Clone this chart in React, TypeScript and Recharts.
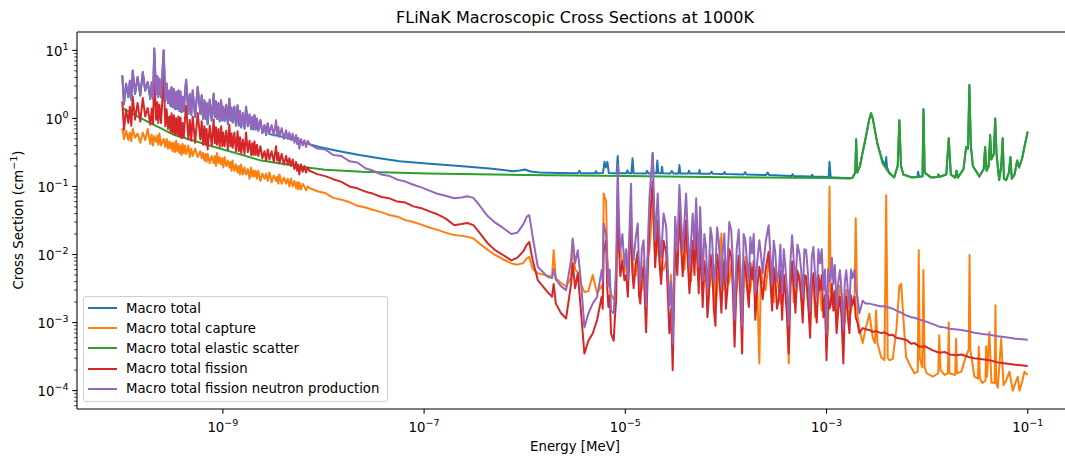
import { LineChart, Line, XAxis, YAxis, Legend, ReferenceLine } from 'recharts';

type Pt = [number, number];

const FONT = '"DejaVu Sans", sans-serif';

// energies in MeV, macroscopic cross sections in 1/cm
const total: Pt[] = [
  [1e-10, 4.24], [1.04e-10, 1.62], [1.09e-10, 3.2], [1.15e-10, 2.04], [1.19e-10, 3.53], [1.23e-10, 1.86],
  [1.27e-10, 5.0], [1.34e-10, 2.28], [1.42e-10, 4.02], [1.51e-10, 2.16], [1.6e-10, 4.75], [1.69e-10, 2.55],
  [1.79e-10, 3.38], [1.9e-10, 1.93], [1.96e-10, 3.33], [2.02e-10, 1.96], [2.08e-10, 10.5], [2.17e-10, 2.28],
  [2.23e-10, 4.12], [2.28e-10, 2.06], [2.34e-10, 3.79], [2.43e-10, 2.04], [2.58e-10, 9.9], [2.68e-10, 1.82],
  [2.76e-10, 3.23], [2.85e-10, 1.67], [2.94e-10, 2.55], [3.02e-10, 1.52], [3.09e-10, 2.84], [3.17e-10, 1.45],
  [3.26e-10, 2.65], [3.34e-10, 1.37], [3.43e-10, 2.41], [3.52e-10, 1.37], [3.61e-10, 2.55], [3.7e-10, 1.29],
  [3.79e-10, 2.45], [3.88e-10, 1.23], [3.98e-10, 2.04], [4.09e-10, 1.27], [4.2e-10, 2.35], [4.31e-10, 3.67],
  [4.54e-10, 1.16], [4.69e-10, 2.25], [4.85e-10, 1.13], [5.01e-10, 2.55], [5.3e-10, 1.04], [5.62e-10, 2.86],
  [5.97e-10, 1.16], [6.16e-10, 2.16], [6.35e-10, 0.98], [6.55e-10, 1.82], [6.72e-10, 0.98], [6.89e-10, 1.67],
  [7.06e-10, 0.82], [7.4e-10, 1.86], [7.74e-10, 0.93], [8.1e-10, 2.28], [8.31e-10, 1.03], [8.53e-10, 1.76],
  [8.75e-10, 0.98], [9.03e-10, 1.67], [9.3e-10, 0.9], [9.6e-10, 1.82], [9.87e-10, 0.93], [1.01e-9, 1.47],
  [1.04e-9, 0.92], [1.08e-9, 1.57], [1.12e-9, 0.83], [1.16e-9, 1.93], [1.19e-9, 0.93], [1.22e-9, 1.42],
  [1.25e-9, 0.87], [1.3e-9, 1.47], [1.35e-9, 0.78], [1.4e-9, 1.54], [1.44e-9, 0.78], [1.48e-9, 1.27],
  [1.52e-9, 0.735], [1.58e-9, 1.18], [1.64e-9, 0.705], [1.7e-9, 1.47], [1.77e-9, 0.765], [1.84e-9, 1.13],
  [1.91e-9, 0.695], [1.96e-9, 1.03], [2.01e-9, 0.686], [2.06e-9, 1.1], [2.12e-9, 0.686], [2.18e-9, 0.98],
  [2.25e-9, 0.657], [2.36e-9, 0.93], [2.47e-9, 0.608], [2.59e-9, 0.784], [2.69e-9, 0.568], [2.79e-9, 0.833],
  [2.9e-9, 0.588], [3.6e-9, 0.55], [4.3e-9, 0.52], [5.75e-9, 0.46],
  [9.1e-9, 0.38], [1.44e-8, 0.33], [2.28e-8, 0.29], [3.6e-8, 0.26],
  [5.7e-8, 0.235], [1.13e-7, 0.215], [2.25e-7, 0.2], [4.5e-7, 0.183], [7.6e-7, 0.168], [8.9e-7, 0.172],
  [1.0e-6, 0.178], [1.15e-6, 0.166], [1.4e-6, 0.16], [2.2e-6, 0.158], [3.4e-6, 0.157], [3.5e-6, 0.17],
  [3.6e-6, 0.157], [5.0e-6, 0.157], [5.1e-6, 0.168], [5.2e-6, 0.157], [6.0e-6, 0.158], [6.2e-6, 0.23],
  [6.4e-6, 0.19], [6.64e-6, 0.23], [6.85e-6, 0.158], [8.2e-6, 0.157], [8.4e-6, 0.28], [8.6e-6, 0.157],
  [1.02e-5, 0.156], [1.05e-5, 0.172], [1.08e-5, 0.156], [1.15e-5, 0.156], [1.18e-5, 0.26], [1.21e-5, 0.156],
  [1.6e-5, 0.155], [1.65e-5, 0.17], [1.7e-5, 0.155], [1.83e-5, 0.156], [1.87e-5, 0.31], [1.91e-5, 0.156],
  [2.04e-5, 0.156], [2.08e-5, 0.24], [2.13e-5, 0.156], [2.28e-5, 0.156], [2.32e-5, 0.195], [2.36e-5, 0.156],
  [2.8e-5, 0.155], [2.9e-5, 0.168], [3.0e-5, 0.155], [3.38e-5, 0.155], [3.45e-5, 0.206], [3.53e-5, 0.155],
  [4.2e-5, 0.155], [4.3e-5, 0.17], [4.4e-5, 0.155], [5.4e-5, 0.155], [5.46e-5, 0.174], [5.55e-5, 0.154],
  [7.0e-5, 0.154], [7.2e-5, 0.165], [7.4e-5, 0.154], [9.5e-5, 0.153], [9.7e-5, 0.163], [1.0e-4, 0.152],
  [1.5e-4, 0.15], [1.55e-4, 0.162], [1.6e-4, 0.15], [2.5e-4, 0.147], [2.6e-4, 0.16], [2.7e-4, 0.147],
  [4.5e-4, 0.143], [4.6e-4, 0.152], [4.7e-4, 0.143], [7.0e-4, 0.14], [7.2e-4, 0.148], [7.4e-4, 0.14],
  [1.05e-3, 0.138], [1.07e-3, 0.23], [1.1e-3, 0.137], [1.69e-3, 0.132], [1.81e-3, 0.134], [1.93e-3, 0.16],
  [1.97e-3, 0.5], [2.02e-3, 0.16], [2.15e-3, 0.2], [2.28e-3, 0.31], [2.5e-3, 0.6], [2.65e-3, 0.95],
  [2.77e-3, 1.19], [2.88e-3, 1.0], [3.2e-3, 0.43], [3.6e-3, 0.24], [3.85e-3, 0.2], [3.92e-3, 0.27],
  [4.0e-3, 0.19], [4.2e-3, 0.16], [4.7e-3, 0.137], [5.1e-3, 0.2], [5.3e-3, 0.94], [5.5e-3, 0.2],
  [5.8e-3, 0.15], [7.0e-3, 0.137], [8.0e-3, 0.137], [8.15e-3, 0.165], [8.3e-3, 0.138], [9.0e-3, 0.142],
  [9.2e-3, 1.36], [9.45e-3, 0.16], [1.1e-2, 0.135], [1.27e-2, 0.138], [1.29e-2, 0.15], [1.32e-2, 0.138],
  [1.55e-2, 0.15], [1.64e-2, 0.51], [1.72e-2, 0.15], [1.9e-2, 0.135], [1.96e-2, 0.17], [2.02e-2, 0.135],
  [2.3e-2, 0.18], [2.44e-2, 0.38], [2.55e-2, 0.36], [2.63e-2, 3.09], [2.72e-2, 0.4], [2.85e-2, 0.2],
  [3.3e-2, 0.14], [3.65e-2, 0.18], [3.77e-2, 0.38], [3.9e-2, 0.17], [4.1e-2, 0.2], [4.23e-2, 0.57],
  [4.35e-2, 0.25], [4.6e-2, 0.3], [4.75e-2, 1.0], [4.9e-2, 0.3], [5.2e-2, 0.124], [5.45e-2, 0.2],
  [5.64e-2, 0.51], [5.8e-2, 0.13], [6.1e-2, 0.124], [6.5e-2, 0.16], [6.73e-2, 0.27], [6.95e-2, 0.13],
  [7.4e-2, 0.15], [7.85e-2, 0.24], [8.2e-2, 0.19], [8.8e-2, 0.26], [9.4e-2, 0.42], [1e-1, 0.64],
];

const capture: Pt[] = [
  [1e-10, 0.72], [1.04e-10, 0.5], [1.09e-10, 0.66], [1.15e-10, 0.48], [1.19e-10, 0.62], [1.23e-10, 0.46],
  [1.27e-10, 0.7], [1.34e-10, 0.52], [1.42e-10, 0.6], [1.51e-10, 0.44], [1.6e-10, 0.62], [1.69e-10, 0.48],
  [1.79e-10, 0.7], [1.9e-10, 0.42], [1.96e-10, 0.58], [2.02e-10, 0.4], [2.08e-10, 0.55], [2.17e-10, 0.45],
  [2.23e-10, 0.56], [2.28e-10, 0.41], [2.34e-10, 0.6], [2.43e-10, 0.4], [2.58e-10, 0.5], [2.68e-10, 0.38],
  [2.76e-10, 0.5], [2.85e-10, 0.36], [2.94e-10, 0.46], [3.02e-10, 0.36], [3.09e-10, 0.44], [3.17e-10, 0.33],
  [3.26e-10, 0.44], [3.34e-10, 0.32], [3.43e-10, 0.47], [3.52e-10, 0.33], [3.61e-10, 0.42], [3.7e-10, 0.31],
  [3.79e-10, 0.4], [3.88e-10, 0.29], [3.98e-10, 0.42], [4.09e-10, 0.31], [4.2e-10, 0.4], [4.31e-10, 0.3],
  [4.54e-10, 0.4], [4.69e-10, 0.27], [4.85e-10, 0.36], [5.01e-10, 0.28], [5.3e-10, 0.36], [5.62e-10, 0.27],
  [5.97e-10, 0.33], [6.16e-10, 0.26], [6.35e-10, 0.31], [6.55e-10, 0.24], [6.72e-10, 0.3], [6.89e-10, 0.23],
  [7.06e-10, 0.3], [7.4e-10, 0.22], [7.74e-10, 0.28], [8.1e-10, 0.22], [8.31e-10, 0.28], [8.53e-10, 0.2],
  [8.75e-10, 0.31], [9.03e-10, 0.22], [9.3e-10, 0.27], [9.6e-10, 0.21], [9.87e-10, 0.26], [1.01e-9, 0.19],
  [1.04e-9, 0.27], [1.08e-9, 0.2], [1.12e-9, 0.24], [1.16e-9, 0.19], [1.19e-9, 0.23], [1.22e-9, 0.17],
  [1.25e-9, 0.24], [1.3e-9, 0.17], [1.35e-9, 0.21], [1.4e-9, 0.16], [1.44e-9, 0.2], [1.48e-9, 0.15],
  [1.52e-9, 0.21], [1.58e-9, 0.15], [1.64e-9, 0.19], [1.7e-9, 0.15], [1.77e-9, 0.18], [1.84e-9, 0.13],
  [1.91e-9, 0.19], [1.96e-9, 0.14], [2.01e-9, 0.17], [2.06e-9, 0.14], [2.12e-9, 0.17], [2.18e-9, 0.13],
  [2.25e-9, 0.17], [2.36e-9, 0.12], [2.47e-9, 0.155], [2.59e-9, 0.13], [2.69e-9, 0.155], [2.79e-9, 0.12],
  [2.9e-9, 0.16], [3.05e-9, 0.115], [3.21e-9, 0.145], [3.38e-9, 0.12], [3.47e-9, 0.14], [3.56e-9, 0.11],
  [3.65e-9, 0.15], [3.84e-9, 0.11], [4.04e-9, 0.135], [4.25e-9, 0.11], [4.41e-9, 0.13], [4.58e-9, 0.1],
  [4.76e-9, 0.13], [4.94e-9, 0.1], [5.14e-9, 0.12], [5.34e-9, 0.095], [5.47e-9, 0.115], [5.61e-9, 0.09],
  [5.75e-9, 0.115], [5.97e-9, 0.09], [6.21e-9, 0.11], [6.46e-9, 0.1], [6.7e-9, 0.088], [6.97e-9, 0.1],
  [7.24e-9, 0.095], [8.69e-9, 0.085], [1.04e-8, 0.08], [1.25e-8, 0.068], [1.51e-8, 0.064], [1.81e-8, 0.059],
  [2.17e-8, 0.052], [2.61e-8, 0.049], [3.13e-8, 0.045], [3.77e-8, 0.042], [4.52e-8, 0.038], [5.43e-8, 0.036],
  [6.52e-8, 0.032], [7.83e-8, 0.03], [9.4e-8, 0.0275], [1.13e-7, 0.025], [1.36e-7, 0.023], [1.63e-7, 0.021],
  [2.0e-7, 0.0193], [2.35e-7, 0.0188], [2.69e-7, 0.0183], [3.09e-7, 0.0172], [3.55e-7, 0.0145], [4.26e-7, 0.0118],
  [5.0e-7, 0.01], [6.0e-7, 0.0086], [7.38e-7, 0.0074], [8.47e-7, 0.0071], [9.71e-7, 0.0075],
  [1.05e-6, 0.0088], [1.11e-6, 0.0092], [1.2e-6, 0.0062], [1.35e-6, 0.0053], [1.69e-6, 0.0049], [1.87e-6, 0.0047],
  [1.94e-6, 0.0116], [2.04e-6, 0.0045], [2.3e-6, 0.0038], [2.58e-6, 0.0034], [2.89e-6, 0.0045], [3.0e-6, 0.0162],
  [3.17e-6, 0.006], [3.37e-6, 0.0055], [3.64e-6, 0.0036], [3.92e-6, 0.0028], [4.3e-6, 0.0029], [4.74e-6, 0.005],
  [5.25e-6, 0.0027], [5.82e-6, 0.0035], [5.96e-6, 0.003], [6.1e-6, 0.079], [6.44e-6, 0.06], [6.61e-6, 0.01],
  [6.79e-6, 0.0042], [7.0e-6, 0.0035], [7.22e-6, 0.0026], [7.67e-6, 0.0022], [7.89e-6, 0.0025], [8.11e-6, 0.004],
  [8.4e-6, 0.05], [8.66e-6, 0.015], [8.93e-6, 0.012], [9.36e-6, 0.007], [9.8e-6, 0.0055], [1.02e-5, 0.008],
  [1.06e-5, 0.0035], [1.14e-5, 0.03], [1.17e-5, 0.009], [1.21e-5, 0.006], [1.27e-5, 0.005], [1.33e-5, 0.009],
  [1.37e-5, 0.007], [1.41e-5, 0.004], [1.46e-5, 0.003], [1.52e-5, 0.008], [1.61e-5, 0.0025], [1.67e-5, 0.009],
  [1.74e-5, 0.012], [1.87e-5, 0.06], [1.98e-5, 0.009], [2.04e-5, 0.01], [2.1e-5, 0.02], [2.18e-5, 0.012],
  [2.27e-5, 0.006], [2.4e-5, 0.006], [2.55e-5, 0.008], [2.74e-5, 0.0022], [2.85e-5, 0.005], [2.96e-5, 0.0012],
  [3.13e-5, 0.01], [3.29e-5, 0.008], [3.45e-5, 0.03], [3.72e-5, 0.006], [3.87e-5, 0.006], [4.02e-5, 0.015],
  [4.18e-5, 0.01], [4.34e-5, 0.004], [4.5e-5, 0.004], [4.68e-5, 0.012], [4.87e-5, 0.009], [5.06e-5, 0.015],
  [5.37e-5, 0.0035], [5.55e-5, 0.01], [5.88e-5, 0.0025], [6.1e-5, 0.004], [6.35e-5, 0.0045], [6.55e-5, 0.006],
  [6.75e-5, 0.003], [7.02e-5, 0.004], [7.29e-5, 0.006], [7.58e-5, 0.007], [7.87e-5, 0.0014], [8.17e-5, 0.003],
  [8.48e-5, 0.006], [9.02e-5, 0.0204], [9.33e-5, 0.003], [9.66e-5, 0.004], [1.0e-4, 0.006], [1.04e-4, 0.0035],
  [1.08e-4, 0.004], [1.13e-4, 0.007], [1.17e-4, 0.006], [1.22e-4, 0.0012], [1.28e-4, 0.003], [1.34e-4, 0.006],
  [1.39e-4, 0.007], [1.45e-4, 0.0008], [1.5e-4, 0.003], [1.56e-4, 0.0092], [1.62e-4, 0.005], [1.69e-4, 0.0025],
  [1.75e-4, 0.003], [1.82e-4, 0.005], [1.89e-4, 0.006], [1.96e-4, 0.0018], [2.05e-4, 0.003], [2.15e-4, 0.00025],
  [2.23e-4, 0.006], [2.32e-4, 0.004], [2.48e-4, 0.003], [2.66e-4, 0.008], [2.77e-4, 0.006], [2.88e-4, 0.0025],
  [2.99e-4, 0.002], [3.1e-4, 0.006], [3.22e-4, 0.005], [3.35e-4, 0.003], [3.48e-4, 0.002], [3.62e-4, 0.0018],
  [3.76e-4, 0.005], [3.9e-4, 0.004], [4.05e-4, 0.002], [4.21e-4, 0.00025], [4.38e-4, 0.004], [4.55e-4, 0.007],
  [4.73e-4, 0.002], [4.91e-4, 0.0025], [5.14e-4, 0.004], [5.38e-4, 0.005], [5.59e-4, 0.0025], [5.8e-4, 0.0015],
  [6.03e-4, 0.0035], [6.27e-4, 0.0045], [6.56e-4, 0.0018], [6.87e-4, 0.0012], [7.13e-4, 0.003], [7.41e-4, 0.004],
  [7.7e-4, 0.0012], [8.0e-4, 0.0015], [8.31e-4, 0.003], [8.64e-4, 0.003], [8.97e-4, 0.0015], [9.31e-4, 0.0018],
  [9.65e-4, 0.002], [1.0e-3, 0.0004], [1.035e-3, 0.0008], [1.07e-3, 0.1], [1.1e-3, 0.0028], [1.13e-3, 0.003],
  [1.17e-3, 0.0025], [1.21e-3, 0.0018], [1.26e-3, 0.0012], [1.31e-3, 0.002], [1.36e-3, 0.0035], [1.41e-3, 0.0025],
  [1.47e-3, 0.0015], [1.52e-3, 0.001], [1.57e-3, 0.003], [1.63e-3, 0.002], [1.69e-3, 0.0012], [1.75e-3, 0.0015],
  [1.81e-3, 0.002], [1.9e-3, 0.0024], [1.95e-3, 0.034], [2.03e-3, 0.0013], [2.12e-3, 0.0008], [2.29e-3, 0.0005],
  [2.44e-3, 0.0008], [2.67e-3, 0.00135], [2.88e-3, 0.0006], [3.03e-3, 0.0005], [3.11e-3, 0.0015], [3.21e-3, 0.0005],
  [3.49e-3, 0.00031], [3.77e-3, 0.00028], [3.92e-3, 0.074], [4.06e-3, 0.0003], [4.23e-3, 0.00028], [4.55e-3, 0.00029],
  [4.95e-3, 0.0008], [5.31e-3, 0.0035], [5.52e-3, 0.0037], [5.82e-3, 0.0011], [6.18e-3, 0.00031], [6.93e-3, 0.00022],
  [7.48e-3, 0.00018], [8.07e-3, 0.00019], [8.26e-3, 0.0116], [8.45e-3, 0.0003], [8.94e-3, 0.00022], [9.19e-3, 0.0059],
  [9.45e-3, 0.00022], [9.91e-3, 0.00018], [1.14e-2, 0.00016], [1.29e-2, 0.00018], [1.32e-2, 0.00065], [1.36e-2, 0.0002],
  [1.49e-2, 0.00017], [1.61e-2, 0.00018], [1.64e-2, 0.001], [1.67e-2, 0.00018], [1.9e-2, 0.00017], [1.94e-2, 0.00058],
  [1.98e-2, 0.00018], [2.19e-2, 0.00019], [2.4e-2, 0.0003], [2.59e-2, 0.0004], [2.64e-2, 0.0098], [2.69e-2, 0.0004],
  [2.95e-2, 0.00016], [3.2e-2, 0.00015], [3.26e-2, 0.00044], [3.35e-2, 0.00015], [3.55e-2, 0.00013], [3.8e-2, 0.00014],
  [3.86e-2, 0.00045], [3.93e-2, 0.00016], [4.16e-2, 0.00073], [4.36e-2, 0.00013], [4.69e-2, 0.00013], [4.78e-2, 0.0018],
  [4.86e-2, 0.00013], [5.04e-2, 0.00011], [5.45e-2, 0.00058], [5.74e-2, 0.00012], [6.1e-2, 0.00014], [6.58e-2, 0.00019],
  [7.1e-2, 0.0001], [7.55e-2, 0.00013], [7.96e-2, 0.00016], [8.28e-2, 0.0001], [8.85e-2, 0.00014], [9.27e-2, 0.00019],
  [1e-1, 0.00017],
];

const elastic: Pt[] = [
  [1e-10, 1.42], [1.54e-10, 1.0], [3.3e-10, 0.57], [8.8e-10, 0.37], [2.41e-9, 0.24], [6.0e-9, 0.195],
  [1.04e-8, 0.176], [2.38e-8, 0.164], [1.08e-7, 0.155], [1e-6, 0.147], [1e-5, 0.142], [1e-4, 0.137],
  [1e-3, 0.133], [1.69e-3, 0.131], [1.81e-3, 0.133], [1.93e-3, 0.16], [1.97e-3, 0.48], [2.02e-3, 0.16],
  [2.15e-3, 0.2], [2.28e-3, 0.31], [2.5e-3, 0.6], [2.65e-3, 0.95], [2.77e-3, 1.19], [2.88e-3, 1.0],
  [3.2e-3, 0.43], [3.6e-3, 0.22], [4.2e-3, 0.157], [4.7e-3, 0.135], [5.1e-3, 0.2], [5.3e-3, 0.94],
  [5.5e-3, 0.2], [5.8e-3, 0.15], [7.0e-3, 0.135], [9.0e-3, 0.14], [9.2e-3, 1.36], [9.45e-3, 0.16],
  [1.1e-2, 0.135], [1.27e-2, 0.138], [1.29e-2, 0.15], [1.32e-2, 0.138], [1.55e-2, 0.15], [1.64e-2, 0.51],
  [1.72e-2, 0.15], [1.9e-2, 0.135], [1.96e-2, 0.17], [2.02e-2, 0.135], [2.3e-2, 0.18], [2.44e-2, 0.38],
  [2.55e-2, 0.36], [2.63e-2, 3.09], [2.72e-2, 0.4], [2.85e-2, 0.2], [3.3e-2, 0.14], [3.65e-2, 0.18],
  [3.77e-2, 0.38], [3.9e-2, 0.17], [4.1e-2, 0.2], [4.23e-2, 0.57], [4.35e-2, 0.25], [4.6e-2, 0.3],
  [4.75e-2, 1.0], [4.9e-2, 0.3], [5.2e-2, 0.124], [5.45e-2, 0.2], [5.64e-2, 0.51], [5.8e-2, 0.13],
  [6.1e-2, 0.124], [6.5e-2, 0.16], [6.73e-2, 0.27], [6.95e-2, 0.13], [7.4e-2, 0.15], [7.85e-2, 0.24],
  [8.2e-2, 0.19], [8.8e-2, 0.26], [9.4e-2, 0.42], [1e-1, 0.64],
];

const fission: Pt[] = [
  [1e-10, 1.78], [1.04e-10, 0.68], [1.09e-10, 1.35], [1.15e-10, 0.86], [1.19e-10, 1.48], [1.23e-10, 0.78],
  [1.27e-10, 2.1], [1.34e-10, 0.96], [1.42e-10, 1.69], [1.51e-10, 0.9], [1.6e-10, 2.0], [1.69e-10, 1.07],
  [1.79e-10, 1.42], [1.9e-10, 0.81], [1.96e-10, 1.4], [2.02e-10, 0.82], [2.08e-10, 4.4], [2.17e-10, 0.96],
  [2.23e-10, 1.73], [2.28e-10, 0.86], [2.34e-10, 1.59], [2.43e-10, 0.86], [2.58e-10, 4.16], [2.68e-10, 0.77],
  [2.76e-10, 1.36], [2.85e-10, 0.7], [2.94e-10, 1.07], [3.02e-10, 0.64], [3.09e-10, 1.19], [3.17e-10, 0.61],
  [3.26e-10, 1.11], [3.34e-10, 0.58], [3.43e-10, 1.01], [3.52e-10, 0.58], [3.61e-10, 1.07], [3.7e-10, 0.54],
  [3.79e-10, 1.03], [3.88e-10, 0.51], [3.98e-10, 0.86], [4.09e-10, 0.53], [4.2e-10, 0.99], [4.31e-10, 1.54],
  [4.54e-10, 0.49], [4.69e-10, 0.95], [4.85e-10, 0.47], [5.01e-10, 1.07], [5.3e-10, 0.44], [5.62e-10, 1.2],
  [5.97e-10, 0.49], [6.16e-10, 0.91], [6.35e-10, 0.41], [6.55e-10, 0.77], [6.72e-10, 0.41], [6.89e-10, 0.7],
  [7.06e-10, 0.35], [7.4e-10, 0.78], [7.74e-10, 0.39], [8.1e-10, 0.96], [8.31e-10, 0.43], [8.53e-10, 0.74],
  [8.75e-10, 0.41], [9.03e-10, 0.7], [9.3e-10, 0.38], [9.6e-10, 0.77], [9.87e-10, 0.39], [1.01e-9, 0.62],
  [1.04e-9, 0.39], [1.08e-9, 0.66], [1.12e-9, 0.35], [1.16e-9, 0.81], [1.19e-9, 0.39], [1.22e-9, 0.6],
  [1.25e-9, 0.37], [1.3e-9, 0.62], [1.35e-9, 0.33], [1.4e-9, 0.65], [1.44e-9, 0.33], [1.48e-9, 0.53],
  [1.52e-9, 0.31], [1.58e-9, 0.49], [1.64e-9, 0.3], [1.7e-9, 0.62], [1.77e-9, 0.32], [1.84e-9, 0.47],
  [1.91e-9, 0.29], [1.96e-9, 0.43], [2.01e-9, 0.29], [2.06e-9, 0.46], [2.12e-9, 0.29], [2.18e-9, 0.41],
  [2.25e-9, 0.28], [2.36e-9, 0.39], [2.47e-9, 0.26], [2.59e-9, 0.33], [2.69e-9, 0.24], [2.79e-9, 0.35],
  [2.9e-9, 0.25], [3.05e-9, 0.33], [3.21e-9, 0.23], [3.38e-9, 0.39], [3.47e-9, 0.24], [3.56e-9, 0.31],
  [3.65e-9, 0.22], [3.84e-9, 0.3], [4.04e-9, 0.21], [4.25e-9, 0.28], [4.41e-9, 0.21], [4.58e-9, 0.26],
  [4.76e-9, 0.2], [4.94e-9, 0.25], [5.14e-9, 0.18], [5.34e-9, 0.23], [5.47e-9, 0.17], [5.61e-9, 0.21],
  [5.75e-9, 0.15], [5.97e-9, 0.21], [6.21e-9, 0.165], [6.46e-9, 0.2], [6.7e-9, 0.16], [6.97e-9, 0.19],
  [7.24e-9, 0.17], [8.69e-9, 0.152], [1.04e-8, 0.142], [1.25e-8, 0.128], [1.51e-8, 0.117], [1.81e-8, 0.1],
  [2.17e-8, 0.094], [2.61e-8, 0.084], [3.13e-8, 0.078], [3.77e-8, 0.07], [4.52e-8, 0.067], [5.43e-8, 0.06],
  [6.52e-8, 0.058], [7.83e-8, 0.051], [9.4e-8, 0.048], [1.13e-7, 0.043], [1.36e-7, 0.039], [1.63e-7, 0.034],
  [2.0e-7, 0.027], [2.35e-7, 0.028], [2.69e-7, 0.029], [3.09e-7, 0.027], [3.55e-7, 0.021], [4.26e-7, 0.0148],
  [5.0e-7, 0.0118], [6.0e-7, 0.01], [7.38e-7, 0.0082], [8.47e-7, 0.009], [9.71e-7, 0.0112],
  [1.05e-6, 0.014], [1.11e-6, 0.0153], [1.2e-6, 0.0083], [1.35e-6, 0.0042], [1.69e-6, 0.0028], [1.87e-6, 0.0024],
  [1.94e-6, 0.0037], [2.04e-6, 0.0019], [2.3e-6, 0.00137], [2.58e-6, 0.00115], [2.89e-6, 0.0037], [3.0e-6, 0.0074],
  [3.17e-6, 0.0032], [3.37e-6, 0.0053], [3.64e-6, 0.00137], [3.92e-6, 0.00035], [4.3e-6, 0.00054], [4.74e-6, 0.00069],
  [5.25e-6, 0.0011], [5.82e-6, 0.0024], [5.96e-6, 0.0016], [6.1e-6, 0.011], [6.44e-6, 0.0162], [6.61e-6, 0.0033],
  [6.79e-6, 0.0017], [7.0e-6, 0.0025], [7.22e-6, 0.00069], [7.67e-6, 0.00054], [7.89e-6, 0.0012], [8.11e-6, 0.0021],
  [8.4e-6, 0.08], [8.66e-6, 0.012], [8.93e-6, 0.0048], [9.36e-6, 0.008], [9.8e-6, 0.0042], [1.02e-5, 0.005],
  [1.06e-5, 0.0024], [1.14e-5, 0.045], [1.17e-5, 0.006], [1.21e-5, 0.0032], [1.27e-5, 0.0075], [1.33e-5, 0.011],
  [1.37e-5, 0.0025], [1.41e-5, 0.0019], [1.46e-5, 0.005], [1.52e-5, 0.0065], [1.61e-5, 0.00072], [1.67e-5, 0.005],
  [1.74e-5, 0.028], [1.87e-5, 0.12], [1.98e-5, 0.0065], [2.04e-5, 0.014], [2.1e-5, 0.032], [2.18e-5, 0.008],
  [2.27e-5, 0.0037], [2.4e-5, 0.016], [2.55e-5, 0.0105], [2.74e-5, 0.0007], [2.85e-5, 0.0016], [2.96e-5, 0.0002],
  [3.13e-5, 0.015], [3.29e-5, 0.005], [3.45e-5, 0.043], [3.72e-5, 0.0048], [3.87e-5, 0.012], [4.02e-5, 0.032],
  [4.18e-5, 0.008], [4.34e-5, 0.0027], [4.5e-5, 0.006], [4.68e-5, 0.016], [4.87e-5, 0.005], [5.06e-5, 0.027],
  [5.37e-5, 0.0027], [5.55e-5, 0.02], [5.88e-5, 0.0017], [6.1e-5, 0.008], [6.35e-5, 0.0053], [6.55e-5, 0.0012],
  [6.75e-5, 0.0022], [7.02e-5, 0.01], [7.29e-5, 0.007], [7.58e-5, 0.0016], [7.87e-5, 0.0009], [8.17e-5, 0.01],
  [8.48e-5, 0.0066], [9.02e-5, 0.0014], [9.33e-5, 0.005], [9.66e-5, 0.0084], [1.0e-4, 0.0016], [1.04e-4, 0.0034],
  [1.08e-4, 0.012], [1.13e-4, 0.0094], [1.17e-4, 0.0033], [1.22e-4, 0.00044], [1.28e-4, 0.005], [1.34e-4, 0.0096],
  [1.39e-4, 0.0025], [1.45e-4, 0.00035], [1.5e-4, 0.008], [1.56e-4, 0.0066], [1.62e-4, 0.0033], [1.69e-4, 0.0017],
  [1.75e-4, 0.0075], [1.82e-4, 0.0043], [1.89e-4, 0.008], [1.96e-4, 0.0011], [2.05e-4, 0.0033], [2.15e-4, 0.0066],
  [2.23e-4, 0.004], [2.32e-4, 0.0022], [2.48e-4, 0.006], [2.66e-4, 0.011], [2.77e-4, 0.004], [2.88e-4, 0.0015],
  [2.99e-4, 0.0065], [3.1e-4, 0.0043], [3.22e-4, 0.0016], [3.35e-4, 0.0022], [3.48e-4, 0.0058], [3.62e-4, 0.0011],
  [3.76e-4, 0.005], [3.9e-4, 0.0027], [4.05e-4, 0.0012], [4.21e-4, 0.00035], [4.38e-4, 0.0033], [4.55e-4, 0.0079],
  [4.73e-4, 0.0033], [4.91e-4, 0.0014], [5.14e-4, 0.0058], [5.38e-4, 0.0043], [5.59e-4, 0.0025], [5.8e-4, 0.001],
  [6.03e-4, 0.005], [6.27e-4, 0.0048], [6.56e-4, 0.002], [6.87e-4, 0.0006], [7.13e-4, 0.0037], [7.41e-4, 0.0053],
  [7.7e-4, 0.002], [8.0e-4, 0.001], [8.31e-4, 0.005], [8.64e-4, 0.003], [8.97e-4, 0.005], [9.31e-4, 0.0012],
  [9.65e-4, 0.0025], [1.0e-3, 0.00028], [1.035e-3, 0.0025], [1.07e-3, 0.0016], [1.1e-3, 0.0018], [1.13e-3, 0.0037],
  [1.17e-3, 0.0015], [1.21e-3, 0.0029], [1.26e-3, 0.0007], [1.31e-3, 0.0016], [1.36e-3, 0.0024], [1.41e-3, 0.0012],
  [1.47e-3, 0.00025], [1.52e-3, 0.0016], [1.57e-3, 0.0024], [1.63e-3, 0.0012], [1.69e-3, 0.0007], [1.75e-3, 0.0025],
  [1.81e-3, 0.0018], [1.9e-3, 0.0024], [1.95e-3, 0.0012], [2.03e-3, 0.001], [2.12e-3, 0.0007], [2.29e-3, 0.00083],
  [2.44e-3, 0.0008], [2.67e-3, 0.00078], [2.88e-3, 0.00073], [3.11e-3, 0.00075], [3.49e-3, 0.0007], [3.77e-3, 0.00072],
  [4.23e-3, 0.00065], [4.55e-3, 0.00066], [4.95e-3, 0.0006], [5.52e-3, 0.00058], [6.18e-3, 0.00056], [6.93e-3, 0.00049],
  [7.48e-3, 0.0005], [8.45e-3, 0.00044], [9.45e-3, 0.00045], [1.14e-2, 0.00039], [1.32e-2, 0.00036], [1.49e-2, 0.00037],
  [1.67e-2, 0.00034], [1.98e-2, 0.00033], [2.19e-2, 0.00034], [2.64e-2, 0.00031], [2.95e-2, 0.0003], [3.55e-2, 0.00029],
  [4.16e-2, 0.00028], [5.04e-2, 0.00026], [6.1e-2, 0.00025], [7.55e-2, 0.00024], [1e-1, 0.00023],
];

const nuFission: Pt[] = [
  [1e-10, 4.33], [1.04e-10, 1.65], [1.09e-10, 3.27], [1.15e-10, 2.08], [1.19e-10, 3.6], [1.23e-10, 1.9],
  [1.27e-10, 5.1], [1.34e-10, 2.33], [1.42e-10, 4.1], [1.51e-10, 2.2], [1.6e-10, 4.85], [1.69e-10, 2.6],
  [1.79e-10, 3.45], [1.9e-10, 1.97], [1.96e-10, 3.4], [2.02e-10, 2.0], [2.08e-10, 10.7], [2.17e-10, 2.33],
  [2.23e-10, 4.2], [2.28e-10, 2.1], [2.34e-10, 3.87], [2.43e-10, 2.08], [2.58e-10, 10.1], [2.68e-10, 1.86],
  [2.76e-10, 3.3], [2.85e-10, 1.7], [2.94e-10, 2.6], [3.02e-10, 1.55], [3.09e-10, 2.9], [3.17e-10, 1.48],
  [3.26e-10, 2.7], [3.34e-10, 1.4], [3.43e-10, 2.46], [3.52e-10, 1.4], [3.61e-10, 2.6], [3.7e-10, 1.32],
  [3.79e-10, 2.5], [3.88e-10, 1.25], [3.98e-10, 2.08], [4.09e-10, 1.3], [4.2e-10, 2.4], [4.31e-10, 3.74],
  [4.54e-10, 1.18], [4.69e-10, 2.3], [4.85e-10, 1.15], [5.01e-10, 2.6], [5.3e-10, 1.06], [5.62e-10, 2.92],
  [5.97e-10, 1.18], [6.16e-10, 2.2], [6.35e-10, 1.0], [6.55e-10, 1.86], [6.72e-10, 1.0], [6.89e-10, 1.7],
  [7.06e-10, 0.84], [7.4e-10, 1.9], [7.74e-10, 0.95], [8.1e-10, 2.33], [8.31e-10, 1.05], [8.53e-10, 1.8],
  [8.75e-10, 1.0], [9.03e-10, 1.7], [9.3e-10, 0.92], [9.6e-10, 1.86], [9.87e-10, 0.95], [1.01e-9, 1.5],
  [1.04e-9, 0.94], [1.08e-9, 1.6], [1.12e-9, 0.85], [1.16e-9, 1.97], [1.19e-9, 0.95], [1.22e-9, 1.45],
  [1.25e-9, 0.89], [1.3e-9, 1.5], [1.35e-9, 0.8], [1.4e-9, 1.57], [1.44e-9, 0.8], [1.48e-9, 1.3],
  [1.52e-9, 0.75], [1.58e-9, 1.2], [1.64e-9, 0.72], [1.7e-9, 1.5], [1.77e-9, 0.78], [1.84e-9, 1.15],
  [1.91e-9, 0.71], [1.96e-9, 1.05], [2.01e-9, 0.7], [2.06e-9, 1.12], [2.12e-9, 0.7], [2.18e-9, 1.0],
  [2.25e-9, 0.67], [2.36e-9, 0.95], [2.47e-9, 0.62], [2.59e-9, 0.8], [2.69e-9, 0.58], [2.79e-9, 0.85],
  [2.9e-9, 0.6], [3.05e-9, 0.8], [3.21e-9, 0.56], [3.38e-9, 0.94], [3.47e-9, 0.58], [3.56e-9, 0.75],
  [3.65e-9, 0.54], [3.84e-9, 0.72], [4.04e-9, 0.5], [4.25e-9, 0.67], [4.41e-9, 0.5], [4.58e-9, 0.62],
  [4.76e-9, 0.48], [4.94e-9, 0.6], [5.14e-9, 0.44], [5.34e-9, 0.57], [5.47e-9, 0.42], [5.61e-9, 0.52],
  [5.75e-9, 0.36], [5.97e-9, 0.5], [6.21e-9, 0.4], [6.46e-9, 0.48], [6.7e-9, 0.38], [6.97e-9, 0.47],
  [7.24e-9, 0.42], [8.69e-9, 0.36], [1.04e-8, 0.35], [1.25e-8, 0.29], [1.51e-8, 0.28], [1.81e-8, 0.235],
  [2.17e-8, 0.225], [2.61e-8, 0.185], [3.13e-8, 0.17], [3.77e-8, 0.15], [4.52e-8, 0.143], [5.43e-8, 0.126],
  [6.52e-8, 0.118], [7.83e-8, 0.106], [9.4e-8, 0.097], [1.13e-7, 0.087], [1.36e-7, 0.078], [1.63e-7, 0.073],
  [2.0e-7, 0.067], [2.35e-7, 0.069], [2.69e-7, 0.072], [3.09e-7, 0.068], [3.55e-7, 0.053], [4.26e-7, 0.037],
  [5.0e-7, 0.03], [6.0e-7, 0.025], [7.38e-7, 0.02], [8.47e-7, 0.021], [9.71e-7, 0.028],
  [1.05e-6, 0.036], [1.11e-6, 0.038], [1.2e-6, 0.0183], [1.35e-6, 0.0066], [1.69e-6, 0.0047], [1.87e-6, 0.0045],
  [1.94e-6, 0.0062], [2.04e-6, 0.0043], [2.3e-6, 0.0034], [2.58e-6, 0.003], [2.89e-6, 0.0083], [3.0e-6, 0.0172],
  [3.17e-6, 0.0074], [3.37e-6, 0.0116], [3.64e-6, 0.0037], [3.92e-6, 0.00085], [4.3e-6, 0.00137], [4.74e-6, 0.0019],
  [5.25e-6, 0.0024], [5.82e-6, 0.0059], [5.96e-6, 0.004], [6.1e-6, 0.0286], [6.44e-6, 0.02], [6.61e-6, 0.008],
  [6.79e-6, 0.0034], [7.0e-6, 0.006], [7.22e-6, 0.0015], [7.67e-6, 0.00137], [7.89e-6, 0.003], [8.11e-6, 0.0066],
  [8.4e-6, 0.206], [8.66e-6, 0.03], [8.93e-6, 0.0116], [9.36e-6, 0.02], [9.8e-6, 0.0066], [1.02e-5, 0.012],
  [1.06e-5, 0.0042], [1.14e-5, 0.11], [1.17e-5, 0.015], [1.21e-5, 0.0083], [1.27e-5, 0.018], [1.33e-5, 0.0286],
  [1.37e-5, 0.006], [1.41e-5, 0.0037], [1.46e-5, 0.012], [1.52e-5, 0.0162], [1.61e-5, 0.00172], [1.67e-5, 0.012],
  [1.74e-5, 0.07], [1.87e-5, 0.306], [1.98e-5, 0.0162], [2.04e-5, 0.035], [2.1e-5, 0.079], [2.18e-5, 0.02],
  [2.27e-5, 0.0092], [2.4e-5, 0.04], [2.55e-5, 0.0256], [2.74e-5, 0.00172], [2.85e-5, 0.004], [2.96e-5, 0.00049],
  [3.13e-5, 0.036], [3.29e-5, 0.012], [3.45e-5, 0.105], [3.72e-5, 0.0116], [3.87e-5, 0.03], [4.02e-5, 0.079],
  [4.18e-5, 0.02], [4.34e-5, 0.0066], [4.5e-5, 0.015], [4.68e-5, 0.04], [4.87e-5, 0.012], [5.06e-5, 0.067],
  [5.37e-5, 0.0066], [5.55e-5, 0.05], [5.88e-5, 0.0042], [6.1e-5, 0.02], [6.35e-5, 0.0129], [6.55e-5, 0.003],
  [6.75e-5, 0.0053], [7.02e-5, 0.025], [7.29e-5, 0.0172], [7.58e-5, 0.004], [7.87e-5, 0.0059], [8.17e-5, 0.025],
  [8.48e-5, 0.0162], [9.02e-5, 0.0034], [9.33e-5, 0.012], [9.66e-5, 0.0204], [1.0e-4, 0.004], [1.04e-4, 0.0083],
  [1.08e-4, 0.03], [1.13e-4, 0.0228], [1.17e-4, 0.008], [1.22e-4, 0.0011], [1.28e-4, 0.012], [1.34e-4, 0.0233],
  [1.39e-4, 0.006], [1.45e-4, 0.0009], [1.5e-4, 0.02], [1.56e-4, 0.0162], [1.62e-4, 0.008], [1.69e-4, 0.0042],
  [1.75e-4, 0.018], [1.82e-4, 0.0104], [1.89e-4, 0.02], [1.96e-4, 0.0027], [2.05e-4, 0.008], [2.15e-4, 0.0162],
  [2.23e-4, 0.01], [2.32e-4, 0.0053], [2.48e-4, 0.015], [2.66e-4, 0.027], [2.77e-4, 0.01], [2.88e-4, 0.0037],
  [2.99e-4, 0.016], [3.1e-4, 0.0104], [3.22e-4, 0.004], [3.35e-4, 0.0053], [3.48e-4, 0.014], [3.62e-4, 0.0027],
  [3.76e-4, 0.012], [3.9e-4, 0.0066], [4.05e-4, 0.003], [4.21e-4, 0.0009], [4.38e-4, 0.008], [4.55e-4, 0.0192],
  [4.73e-4, 0.008], [4.91e-4, 0.0034], [5.14e-4, 0.014], [5.38e-4, 0.0104], [5.59e-4, 0.006], [5.8e-4, 0.0024],
  [6.03e-4, 0.012], [6.27e-4, 0.0116], [6.56e-4, 0.005], [6.87e-4, 0.0015], [7.13e-4, 0.009], [7.41e-4, 0.0129],
  [7.7e-4, 0.005], [8.0e-4, 0.0024], [8.31e-4, 0.012], [8.64e-4, 0.0074], [8.97e-4, 0.012], [9.31e-4, 0.003],
  [9.65e-4, 0.006], [1.0e-3, 0.00069], [1.035e-3, 0.006], [1.07e-3, 0.004], [1.1e-3, 0.0045], [1.13e-3, 0.009],
  [1.17e-3, 0.0037], [1.21e-3, 0.007], [1.26e-3, 0.00172], [1.31e-3, 0.004], [1.36e-3, 0.0059], [1.41e-3, 0.003],
  [1.47e-3, 0.0008], [1.52e-3, 0.004], [1.57e-3, 0.0059], [1.63e-3, 0.003], [1.69e-3, 0.00172], [1.75e-3, 0.006],
  [1.81e-3, 0.0045], [1.9e-3, 0.0059], [1.95e-3, 0.003], [2.03e-3, 0.0024], [2.12e-3, 0.00137], [2.29e-3, 0.0021],
  [2.44e-3, 0.0019], [2.67e-3, 0.0019], [2.88e-3, 0.00185], [3.11e-3, 0.0018], [3.49e-3, 0.00172], [3.77e-3, 0.00175],
  [4.23e-3, 0.00165], [4.55e-3, 0.0016], [4.95e-3, 0.0015], [5.52e-3, 0.0014], [6.18e-3, 0.00128], [6.93e-3, 0.0012],
  [7.48e-3, 0.00118], [8.45e-3, 0.0011], [9.45e-3, 0.00105], [1.14e-2, 0.00095], [1.32e-2, 0.00087], [1.49e-2, 0.00085],
  [1.67e-2, 0.00081], [1.98e-2, 0.00079], [2.19e-2, 0.00078], [2.64e-2, 0.00074], [2.95e-2, 0.00071], [3.55e-2, 0.00068],
  [4.16e-2, 0.00066], [5.04e-2, 0.00063], [6.1e-2, 0.00061], [7.55e-2, 0.00058], [1e-1, 0.00056],
];

const xTicks = [1e-9, 1e-7, 1e-5, 1e-3, 1e-1];
const yMajor = [1e-5, 1e-4, 1e-3, 1e-2, 1e-1, 1, 10];

const X_MIN = Math.pow(10, -10.45);
const X_MAX = Math.pow(10, -0.55);
const Y_MIN = Math.pow(10, -4.27);
const Y_MAX = Math.pow(10, 1.27);

const yTicks: number[] = [];
yMajor.forEach((m) => {
  for (let k = 1; k < 10; k++) {
    const t = m * k;
    if (t >= Y_MIN && t <= Y_MAX) yTicks.push(t);
  }
});

const series = [
  { name: 'Macro total', color: '#1f77b4', points: total },
  { name: 'Macro total capture', color: '#ff7f0e', points: capture },
  { name: 'Macro total elastic scatter', color: '#2ca02c', points: elastic },
  { name: 'Macro total fission', color: '#d62728', points: fission },
  { name: 'Macro total fission neutron production', color: '#9467bd', points: nuFission },
];

const toRows = (pts: Pt[]) => pts.map(([e, v]) => ({ e, v }));

const expText = (v: number) => {
  const n = Math.round(Math.log10(v));
  return n < 0 ? '\u2212' + Math.abs(n) : String(n);
};

const XTick = (props: any) => {
  const { x, y, payload } = props;
  return (
    <g>
      <line x1={x} x2={x} y1={y} y2={y + 4.7} stroke="#000" strokeWidth={1.07} />
      <text x={x} y={y + 23} textAnchor="middle" fontSize={13.3} fontFamily={FONT} fill="#000">
        <tspan>10</tspan>
        <tspan dy={-6} fontSize={9.5}>{expText(payload.value)}</tspan>
      </text>
    </g>
  );
};

const YTick = (props: any) => {
  const { x, y, payload } = props;
  const lg = Math.log10(payload.value);
  const major = Math.abs(lg - Math.round(lg)) < 1e-6;
  return (
    <g>
      <line
        x1={x - (major ? 4.7 : 2.7)}
        x2={x}
        y1={y}
        y2={y}
        stroke="#000"
        strokeWidth={major ? 1.07 : 0.8}
      />
      {major && (
        <text x={x - 8.5} y={y + 5.8} textAnchor="end" fontSize={13.3} fontFamily={FONT} fill="#000">
          <tspan>10</tspan>
          <tspan dy={-6} fontSize={9.5}>{expText(payload.value)}</tspan>
        </text>
      )}
    </g>
  );
};

const LegendBox = () => (
  <div
    style={{
      width: 305,
      height: 106,
      boxSizing: 'border-box',
      border: '1px solid #d0d0d0',
      borderRadius: 3,
      background: 'rgba(255,255,255,0.8)',
      paddingTop: 1,
      fontFamily: FONT,
      fontSize: 13.3,
      color: '#000',
    }}
  >
    {series.map((s) => (
      <div key={s.name} style={{ display: 'flex', alignItems: 'center', height: 20.2 }}>
        <span style={{ display: 'inline-block', width: 29, height: 2, background: s.color, marginLeft: 4, marginRight: 9 }} />
        <span style={{ whiteSpace: 'nowrap' }}>{s.name}</span>
      </div>
    ))}
  </div>
);

export default function App() {
  return (
    <div style={{ position: 'fixed', left: 0, top: 0, width: 1065, height: 457, overflow: 'hidden', background: '#fff' }}>
      <LineChart width={1090} height={457} margin={{ top: 32, right: 17, bottom: 0, left: 0 }}>
        <XAxis
          dataKey="e"
          type="number"
          scale="log"
          domain={[X_MIN, X_MAX]}
          allowDataOverflow
          ticks={xTicks}
          interval={0}
          tick={<XTick />}
          tickLine={false}
          tickSize={0}
          tickMargin={0}
          height={48}
          axisLine={{ stroke: '#000', strokeWidth: 1.07 }}
        />
        <YAxis
          type="number"
          scale="log"
          domain={[Y_MIN, Y_MAX]}
          allowDataOverflow
          ticks={yTicks}
          interval={0}
          tick={<YTick />}
          tickLine={false}
          tickSize={0}
          tickMargin={0}
          width={77}
          axisLine={{ stroke: '#000', strokeWidth: 1.07 }}
        />
        {series.map((s) => (
          <Line
            key={s.name}
            name={s.name}
            data={toRows(s.points)}
            dataKey="v"
            type="linear"
            stroke={s.color}
            strokeWidth={2}
            strokeLinejoin="round"
            dot={false}
            activeDot={false}
            isAnimationActive={false}
          />
        ))}
        <ReferenceLine y={Y_MAX} stroke="#000" strokeWidth={1.07} ifOverflow="visible" />
        <Legend
          content={<LegendBox />}
          layout="vertical"
          align="center"
          verticalAlign="middle"
          wrapperStyle={{ left: 83, top: 296, width: 305, height: 106 }}
        />
      </LineChart>
      <svg width={1065} height={457} style={{ position: 'absolute', left: 0, top: 0, pointerEvents: 'none' }}>
        <text x={575} y={23.3} textAnchor="middle" fontSize={16} fontFamily={FONT} fill="#000">
          FLiNaK Macroscopic Cross Sections at 1000K
        </text>
        <text x={575} y={451} textAnchor="middle" fontSize={13.3} fontFamily={FONT} fill="#000">
          Energy [MeV]
        </text>
        <text x={23} y={220} transform="rotate(-90 23 220)" textAnchor="middle" fontSize={13.3} fontFamily={FONT} fill="#000">
          <tspan>Cross Section (cm</tspan>
          <tspan dy={-6} fontSize={9.5}>{'\u22121'}</tspan>
          <tspan dy={6}>)</tspan>
        </text>
      </svg>
    </div>
  );
}
